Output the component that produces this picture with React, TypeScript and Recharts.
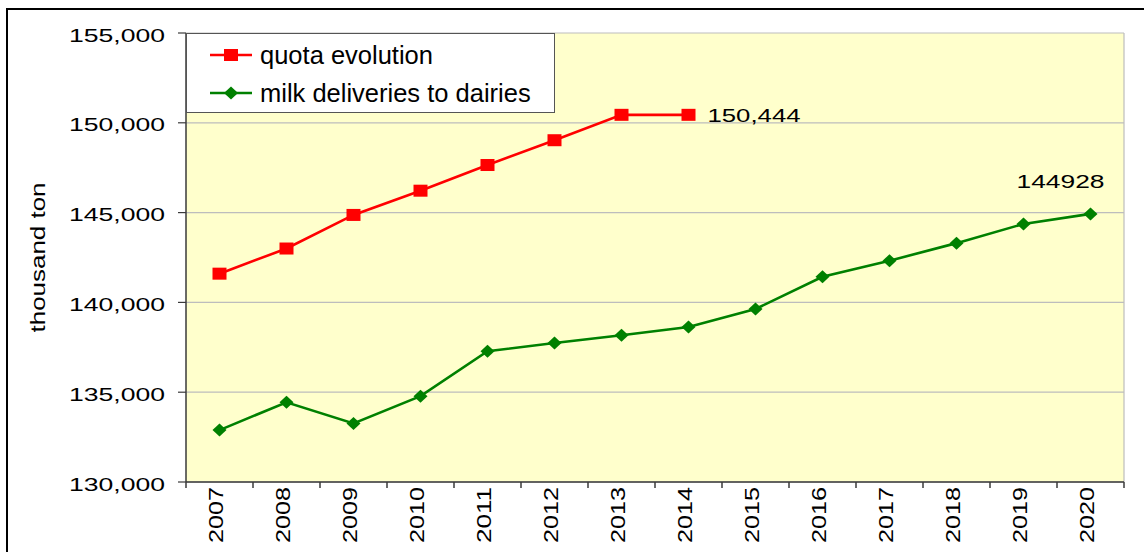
import React from "react";
import {
  LineChart,
  Line,
  XAxis,
  YAxis,
  CartesianGrid,
  Legend,
  LabelList,
} from "recharts";

const years = [
  "2007", "2008", "2009", "2010", "2011", "2012", "2013",
  "2014", "2015", "2016", "2017", "2018", "2019", "2020",
];
const quota = [
  141600, 143000, 144870, 146220, 147650, 149030, 150444,
  150444, null, null, null, null, null, null,
];
const milk = [
  132890, 134440, 133260, 134780, 137280, 137740, 138170,
  138630, 139630, 141430, 142320, 143300, 144370, 144928,
];
const yTicks = [130000, 135000, 140000, 145000, 150000, 155000];

const data = years.map((year, i) => ({ year, quota: quota[i], milk: milk[i] }));

const FONT = "'Liberation Sans', Arial, sans-serif";
const RED = "#ff0000";
const GREEN = "#008000";
const AXIS = "#3a3a3a";

const Square = ({ cx, cy }: any) =>
  cx == null || cy == null ? (
    <g />
  ) : (
    <rect x={cx - 7} y={cy - 6} width={14} height={12} fill={RED} />
  );

const Diamond = ({ cx, cy }: any) =>
  cx == null || cy == null ? (
    <g />
  ) : (
    <path
      d={`M${cx - 7},${cy} L${cx},${cy - 6.5} L${cx + 7},${cy} L${cx},${cy + 6.5} Z`}
      fill={GREEN}
    />
  );

const YTick = ({ x, y, payload }: any) => (
  <text
    x={x}
    y={y}
    dy={8.5}
    textAnchor="end"
    fontSize={18.5}
    fontFamily={FONT}
    fill="#000"
    textLength={96}
    lengthAdjust="spacingAndGlyphs"
  >
    {Number(payload.value).toLocaleString("en-US")}
  </text>
);

const XTick = ({ x, y, payload, index }: any) => {
  const half = payload.offset || 0;
  return (
    <g>
      <line x1={x - half} x2={x - half} y1={y - 5} y2={y + 1} stroke={AXIS} strokeWidth={1.5} />
      {index === years.length - 1 && (
        <line x1={x + half} x2={x + half} y1={y - 5} y2={y + 1} stroke={AXIS} strokeWidth={1.5} />
      )}
      <text
        x={x}
        y={y}
        dy={3.5}
        transform={`rotate(-90, ${x}, ${y})`}
        textAnchor="end"
        fontSize={21}
        fontFamily={FONT}
        fill="#000"
        textLength={56}
        lengthAdjust="spacingAndGlyphs"
      >
        {payload.value}
      </text>
    </g>
  );
};

const YLabel = ({ viewBox }: any) => {
  const cx = viewBox.x + 38;
  const cy = viewBox.y + viewBox.height / 2;
  return (
    <text
      x={cx}
      y={cy}
      dy={7}
      transform={`rotate(-90, ${cx}, ${cy})`}
      textAnchor="middle"
      fontSize={20.5}
      fontFamily={FONT}
      fill="#000"
      textLength={150}
      lengthAdjust="spacingAndGlyphs"
    >
      thousand ton
    </text>
  );
};

const QuotaLabel = ({ x, y, index, value }: any) =>
  index !== 7 ? null : (
    <text
      x={x + 19}
      y={y}
      dy={7}
      fontSize={19}
      fontFamily={FONT}
      fill="#000"
      textLength={93}
      lengthAdjust="spacingAndGlyphs"
    >
      {Number(value).toLocaleString("en-US")}
    </text>
  );

const MilkLabel = ({ x, y, index, value }: any) =>
  index !== years.length - 1 ? null : (
    <text
      x={x + 14}
      y={y - 26}
      textAnchor="end"
      fontSize={19}
      fontFamily={FONT}
      fill="#000"
      textLength={88}
      lengthAdjust="spacingAndGlyphs"
    >
      {value}
    </text>
  );

const LegendBox = () => (
  <svg width={369} height={80} style={{ display: "block" }}>
    <rect x={0.5} y={0.5} width={368} height={79} fill="#fff" stroke="#555" />
    <line x1={24} x2={66} y1={22} y2={22} stroke={RED} strokeWidth={2.5} />
    <rect x={38} y={16} width={14} height={12} fill={RED} />
    <text x={74} y={22} dy={8.5} fontSize={25.5} fontFamily={FONT} fill="#000">
      quota evolution
    </text>
    <line x1={24} x2={66} y1={60} y2={60} stroke={GREEN} strokeWidth={2.5} />
    <path d="M38,60 L45,53.5 L52,60 L45,66.5 Z" fill={GREEN} />
    <text x={74} y={60} dy={8.5} fontSize={25.5} fontFamily={FONT} fill="#000">
      milk deliveries to dairies
    </text>
  </svg>
);

export default function App() {
  return (
    <div
      style={{
        position: "absolute",
        left: 0,
        top: 0,
        width: 1144,
        height: 552,
        background: "#fff",
        overflow: "hidden",
      }}
    >
      <div
        style={{
          position: "absolute",
          left: 6,
          top: 8,
          width: 1200,
          height: 600,
          borderTop: "2px solid #000",
          borderLeft: "2px solid #000",
        }}
      />
      <LineChart
        width={1144}
        height={552}
        data={data}
        margin={{ top: 33, right: 20, bottom: 0, left: 0 }}
        style={{ position: "absolute", left: 0, top: 0 }}
      >
        <CartesianGrid
          fill="#ffffcc"
          fillOpacity={1}
          stroke="#bdbdbd"
          strokeWidth={1.2}
          verticalCoordinatesGenerator={({ offset }: any) => [offset.left + offset.width]}
        />
        <XAxis
          dataKey="year"
          scale="band"
          height={70}
          interval={0}
          tickSize={0}
          tickMargin={5}
          tickLine={false}
          axisLine={{ stroke: AXIS, strokeWidth: 1.5 }}
          tick={<XTick />}
        />
        <YAxis
          width={186}
          domain={[130000, 155000]}
          ticks={yTicks}
          allowDataOverflow
          tickSize={8}
          tickMargin={13}
          tickLine={{ stroke: AXIS, strokeWidth: 1.2 }}
          axisLine={{ stroke: AXIS, strokeWidth: 1.5 }}
          tick={<YTick />}
          label={<YLabel />}
        />
        <Legend
          layout="vertical"
          align="center"
          verticalAlign="middle"
          wrapperStyle={{ left: 186, top: 33, width: 369, height: 80 }}
          content={<LegendBox />}
        />
        <Line
          dataKey="quota"
          name="quota evolution"
          stroke={RED}
          strokeWidth={2.6}
          dot={<Square />}
          activeDot={false}
          isAnimationActive={false}
        >
          <LabelList dataKey="quota" content={<QuotaLabel />} />
        </Line>
        <Line
          dataKey="milk"
          name="milk deliveries to dairies"
          stroke={GREEN}
          strokeWidth={2.6}
          dot={<Diamond />}
          activeDot={false}
          isAnimationActive={false}
        >
          <LabelList dataKey="milk" content={<MilkLabel />} />
        </Line>
      </LineChart>
    </div>
  );
}
